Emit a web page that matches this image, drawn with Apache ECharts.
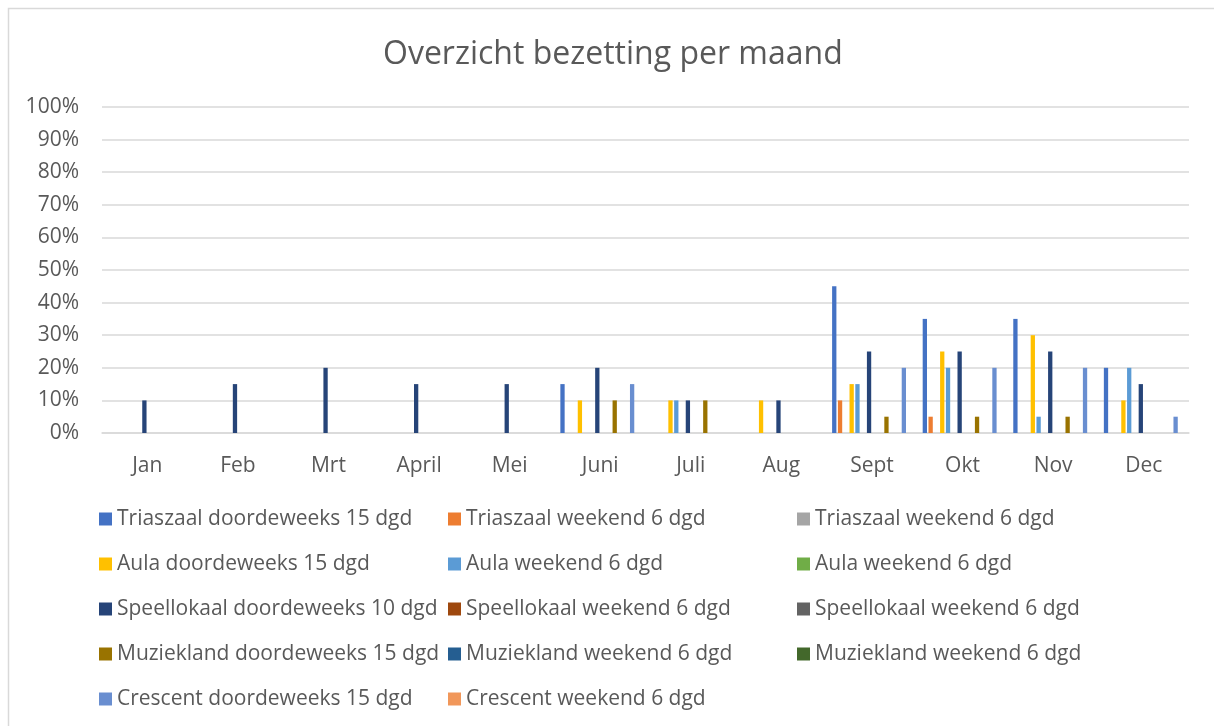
<!DOCTYPE html>
<html>
<head>
<meta charset="utf-8">
<script src="https://cdn.jsdelivr.net/npm/echarts@6/dist/echarts.min.js"></script>
<style>
html,body{margin:0;padding:0;background:#fff;}
#chart{width:1214px;height:726px;}
</style>
</head>
<body>
<div id="chart"></div>
<script>
// ---- data ----
const months = ['Jan','Feb','Mrt','April','Mei','Juni','Juli','Aug','Sept','Okt','Nov','Dec'];
const yTicks = [0,10,20,30,40,50,60,70,80,90,100];

const triaszaalDoordeweeks   = [0,0,0,0,0,15,0,0,45,35,35,20];
const triaszaalWeekend       = [0,0,0,0,0,0,0,0,10,5,0,0];
const triaszaalWeekendB      = [0,0,0,0,0,0,0,0,0,0,0,0];
const aulaDoordeweeks        = [0,0,0,0,0,10,10,10,15,25,30,10];
const aulaWeekend            = [0,0,0,0,0,0,10,0,15,20,5,20];
const aulaWeekendB           = [0,0,0,0,0,0,0,0,0,0,0,0];
const speellokaalDoordeweeks = [10,15,20,15,15,20,10,10,25,25,25,15];
const speellokaalWeekend     = [0,0,0,0,0,0,0,0,0,0,0,0];
const speellokaalWeekendB    = [0,0,0,0,0,0,0,0,0,0,0,0];
const muzieklandDoordeweeks  = [0,0,0,0,0,10,10,0,5,5,5,0];
const muzieklandWeekend      = [0,0,0,0,0,0,0,0,0,0,0,0];
const muzieklandWeekendB     = [0,0,0,0,0,0,0,0,0,0,0,0];
const crescentDoordeweeks    = [0,0,0,0,0,15,0,0,20,20,20,5];
const crescentWeekend        = [0,0,0,0,0,0,0,0,0,0,0,0];

const seriesNames = [
  'Triaszaal doordeweeks 15 dgd','Triaszaal weekend 6 dgd','Triaszaal weekend 6 dgd',
  'Aula doordeweeks 15 dgd','Aula weekend 6 dgd','Aula weekend 6 dgd',
  'Speellokaal doordeweeks 10 dgd','Speellokaal weekend 6 dgd','Speellokaal weekend 6 dgd',
  'Muziekland doordeweeks 15 dgd','Muziekland weekend 6 dgd','Muziekland weekend 6 dgd',
  'Crescent doordeweeks 15 dgd','Crescent weekend 6 dgd'
];
const seriesData = [
  triaszaalDoordeweeks, triaszaalWeekend, triaszaalWeekendB,
  aulaDoordeweeks, aulaWeekend, aulaWeekendB,
  speellokaalDoordeweeks, speellokaalWeekend, speellokaalWeekendB,
  muzieklandDoordeweeks, muzieklandWeekend, muzieklandWeekendB,
  crescentDoordeweeks, crescentWeekend
];
const colors = ['#4472C4','#ED7D31','#A5A5A5','#FFC000','#5B9BD5','#70AD47',
  '#264478','#9E480E','#636363','#997300','#255E91','#43682B','#698ED0','#F1975A'];

// make duplicate names unique for the legend (zero-width suffix, invisible)
const seen = {};
const uniqueNames = seriesNames.map(n => {
  seen[n] = (seen[n] || 0) + 1;
  return seen[n] > 1 ? n + '\u200B' : n;
});

const FONT = 'Open Sans';
const TXT = '#595959';

const series = seriesData.map((d, i) => ({
  name: uniqueNames[i],
  type: 'bar',
  data: d,
  barGap: '35%',
  barCategoryGap: '12%',
  itemStyle: { color: colors[i] },
  silent: true
}));

const legendCommon = {
  orient: 'vertical',
  icon: 'rect',
  padding: 0,
  itemWidth: 13,
  itemHeight: 13,
  itemGap: 23,
  textStyle: { color: TXT, fontSize: 21, fontFamily: FONT, lineHeight: 22 },
  selectedMode: false,
  top: 508
};
const col = k => uniqueNames.filter((_, i) => i % 3 === k);

const chart = echarts.init(document.getElementById('chart'), null, { renderer: 'canvas' });
chart.setOption({
  animation: false,
  color: colors,
  title: {
    text: 'Overzicht bezetting per maand',
    left: 383,
    top: 39,
    padding: 0,
    textStyle: { color: TXT, fontSize: 32, fontWeight: 'normal', fontFamily: FONT }
  },
  legend: [
    Object.assign({}, legendCommon, { left: 99, data: col(0) }),
    Object.assign({}, legendCommon, { left: 448, data: col(1) }),
    Object.assign({}, legendCommon, { left: 797, data: col(2) })
  ],
  grid: { left: 102, right: 25, top: 107, bottom: 293, containLabel: false },
  xAxis: {
    type: 'category',
    data: months,
    axisLine: { lineStyle: { color: '#D9D9D9', width: 1.5 } },
    axisTick: { show: false },
    axisLabel: { color: TXT, fontSize: 21, fontFamily: FONT, margin: 23 }
  },
  yAxis: {
    type: 'value',
    min: yTicks[0],
    max: yTicks[yTicks.length - 1],
    interval: 10,
    axisLine: { show: false },
    axisTick: { show: false },
    splitLine: { lineStyle: { color: '#D9D9D9', width: 1.5 } },
    axisLabel: { color: TXT, fontSize: 21, fontFamily: FONT, margin: 23, formatter: '{value}%' }
  },
  series: series,
  graphic: [{
    type: 'rect',
    shape: { x: 8.5, y: 8.5, width: 1400, height: 900 },
    style: { fill: null, stroke: '#D9D9D9', lineWidth: 1.5 },
    silent: true
  }]
});
</script>
</body>
</html>
